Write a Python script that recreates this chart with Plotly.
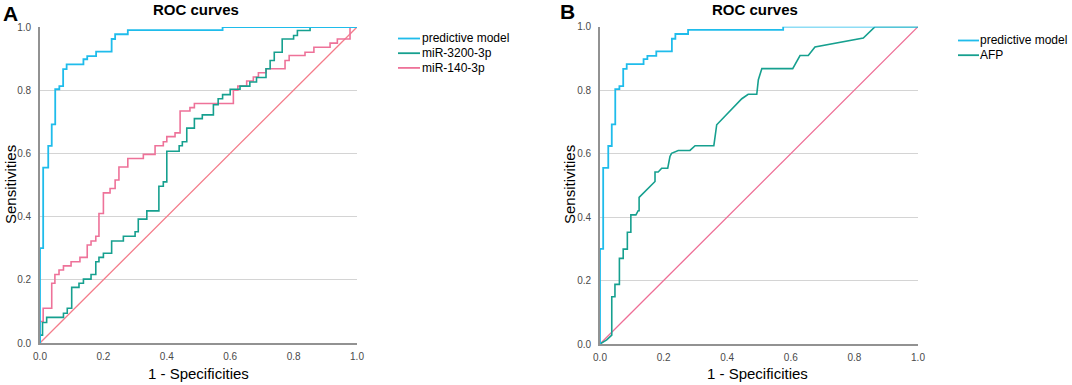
import plotly.graph_objects as go

# ---------------- data ----------------
# step ROC curves (vh: go up to y at current x, then right to x)
pm_fpr = [0, 0.010, 0.026, 0.037, 0.048, 0.061, 0.073, 0.084, 0.137, 0.149, 0.177, 0.226, 0.237, 0.277, 0.576, 1.0]
pm_tpr = [0, 0.300, 0.555, 0.624, 0.692, 0.803, 0.813, 0.867, 0.882, 0.898, 0.908, 0.922, 0.962, 0.977, 0.990, 1.0]

mir3200_fpr = [0, 0.008, 0.021, 0.074, 0.086, 0.100, 0.123, 0.137, 0.161, 0.176, 0.186, 0.200, 0.226, 0.263,
               0.300, 0.310, 0.337, 0.375, 0.389, 0.400, 0.439, 0.449, 0.463, 0.487, 0.512, 0.547, 0.562,
               0.576, 0.600, 0.631, 0.662, 0.683, 0.713, 0.726, 0.739, 0.764, 0.800, 0.812, 0.852, 1.0]
mir3200_tpr = [0, 0.025, 0.065, 0.081, 0.094, 0.110, 0.176, 0.189, 0.202, 0.217, 0.257, 0.271, 0.284, 0.323,
               0.338, 0.352, 0.392, 0.418, 0.496, 0.510, 0.607, 0.624, 0.637, 0.680, 0.710, 0.722, 0.754,
               0.773, 0.786, 0.803, 0.813, 0.826, 0.840, 0.868, 0.894, 0.920, 0.962, 0.973, 0.989, 1.0]

mir140_fpr = [0, 0.010, 0.037, 0.047, 0.060, 0.074, 0.098, 0.126, 0.149, 0.161, 0.176, 0.186, 0.200, 0.221,
              0.237, 0.249, 0.277, 0.326, 0.363, 0.389, 0.400, 0.426, 0.442, 0.473, 0.487, 0.610, 0.624,
              0.652, 0.673, 0.689, 0.713, 0.773, 0.786, 0.836, 0.864, 0.915, 0.938, 0.978, 1.0]
mir140_tpr = [0, 0.068, 0.110, 0.189, 0.217, 0.231, 0.244, 0.257, 0.271, 0.310, 0.323, 0.338, 0.410, 0.475,
              0.489, 0.516, 0.557, 0.584, 0.597, 0.624, 0.637, 0.653, 0.665, 0.734, 0.745, 0.758, 0.800,
              0.813, 0.829, 0.842, 0.855, 0.868, 0.894, 0.910, 0.920, 0.936, 0.949, 0.962, 1.0]

# AFP curve (linear segments, with ties)
afp_fpr = [0, 0.021, 0.037, 0.037, 0.047, 0.047, 0.061, 0.061, 0.073, 0.073, 0.086, 0.086, 0.097, 0.097,
           0.113, 0.120, 0.123, 0.123, 0.173, 0.173, 0.183, 0.194, 0.213, 0.220, 0.225, 0.246, 0.283, 0.299,
           0.358, 0.367, 0.446, 0.466, 0.493, 0.498, 0.509, 0.606, 0.629, 0.655, 0.676, 0.828, 0.865, 1.0]
afp_tpr = [0, 0.013, 0.028, 0.149, 0.149, 0.188, 0.188, 0.270, 0.270, 0.299, 0.299, 0.352, 0.352, 0.407,
           0.407, 0.420, 0.420, 0.462, 0.512, 0.542, 0.542, 0.554, 0.554, 0.591, 0.601, 0.610, 0.610, 0.625,
           0.625, 0.691, 0.773, 0.787, 0.787, 0.833, 0.868, 0.868, 0.909, 0.909, 0.936, 0.964, 1.0, 1.0]

ref_line = [0, 1]
ticks = [0.0, 0.2, 0.4, 0.6, 0.8, 1.0]
tick_text = ["0.0", "0.2", "0.4", "0.6", "0.8", "1.0"]

names_a = ["predictive model", "miR-3200-3p", "miR-140-3p"]
names_b = ["predictive model", "AFP"]

# ---------------- styles ----------------
C_CYAN = "#1FBCEB"
C_TEAL = "#16A08F"
C_PINK = "#EE7299"
C_DIAG_A = "#F47C8A"
C_DIAG_B = "#EE6E96"
FONT = "Arial, 'Liberation Sans', sans-serif"
W, H = 1072, 385


def px_x(p):
    return p / W


def px_y(p):
    return 1 - p / H


fig = go.Figure()

# panel A
fig.add_trace(go.Scatter(x=ref_line, y=ref_line, mode="lines", line=dict(color=C_DIAG_A, width=1.3),
                         xaxis="x", yaxis="y", showlegend=False, hoverinfo="skip"))
fig.add_trace(go.Scatter(x=mir140_fpr, y=mir140_tpr, mode="lines", line=dict(color=C_PINK, width=1.6, shape="vh"),
                         xaxis="x", yaxis="y", name=names_a[2], showlegend=False))
fig.add_trace(go.Scatter(x=mir3200_fpr, y=mir3200_tpr, mode="lines", line=dict(color=C_TEAL, width=1.6, shape="vh"),
                         xaxis="x", yaxis="y", name=names_a[1], showlegend=False))
fig.add_trace(go.Scatter(x=pm_fpr, y=pm_tpr, mode="lines", line=dict(color=C_CYAN, width=1.8, shape="vh"),
                         xaxis="x", yaxis="y", name=names_a[0], showlegend=False))

# panel B
fig.add_trace(go.Scatter(x=ref_line, y=ref_line, mode="lines", line=dict(color=C_DIAG_B, width=1.3),
                         xaxis="x2", yaxis="y2", showlegend=False, hoverinfo="skip"))
fig.add_trace(go.Scatter(x=afp_fpr, y=afp_tpr, mode="lines", line=dict(color=C_TEAL, width=1.6),
                         xaxis="x2", yaxis="y2", name=names_b[1], showlegend=False))
fig.add_trace(go.Scatter(x=pm_fpr, y=pm_tpr, mode="lines", line=dict(color=C_CYAN, width=1.8, shape="vh"),
                         xaxis="x2", yaxis="y2", name=names_b[0], showlegend=False))

axis_common = dict(range=[0, 1], tickvals=ticks, ticktext=tick_text, showline=True, linecolor="#929292",
                   linewidth=1.6, ticks="", tickfont=dict(family=FONT, size=10, color="#4a4a4a"),
                   zeroline=False, layer="below traces", fixedrange=True, automargin=False)

fig.update_layout(
    width=W, height=H, margin=dict(l=0, r=0, t=0, b=0, autoexpand=False),
    paper_bgcolor="white", plot_bgcolor="white", showlegend=False,
    xaxis=dict(domain=[px_x(40), px_x(357)], anchor="y", showgrid=False, ticklabelstandoff=3, **axis_common),
    yaxis=dict(domain=[1 - 343 / H, 1 - 27 / H], anchor="x", showgrid=True, gridcolor="#d4d4d4", gridwidth=1,
               ticklabelstandoff=5, **axis_common),
    xaxis2=dict(domain=[px_x(600), px_x(918)], anchor="y2", showgrid=False, ticklabelstandoff=3, **axis_common),
    yaxis2=dict(domain=[1 - 344 / H, 1 - 26.7 / H], anchor="x2", showgrid=True, gridcolor="#d4d4d4", gridwidth=1,
                ticklabelstandoff=5, **axis_common),
)

ann = []


def text(x, y, s, size, bold=False, angle=0, xanchor="center"):
    ann.append(dict(x=px_x(x), y=px_y(y), xref="paper", yref="paper", text=f"<b>{s}</b>" if bold else s,
                    showarrow=False, font=dict(family=FONT, size=size, color="black"), textangle=angle,
                    xanchor=xanchor, yanchor="middle"))


text(10, 13, "A", 21, bold=True)
text(567, 11, "B", 21, bold=True)
text(196, 9, "ROC curves", 15, bold=True)
text(755, 9, "ROC curves", 15, bold=True)
text(10, 185, "Sensitivities", 15, angle=-90)
text(569, 185, "Sensitivities", 15, angle=-90)
text(198, 373, "1 - Specificities", 15)
text(757, 373, "1 - Specificities", 15)

# legends
shapes = []
leg_a = [(names_a[0], C_CYAN), (names_a[1], C_TEAL), (names_a[2], C_PINK)]
for i, (nm, col) in enumerate(leg_a):
    yy = 38.5 + i * 14.7
    shapes.append(dict(type="line", xref="paper", yref="paper", x0=px_x(398), x1=px_x(420), y0=px_y(yy), y1=px_y(yy),
                       line=dict(color=col, width=1.8)))
    ann.append(dict(x=px_x(420), y=px_y(yy), xref="paper", yref="paper", text=nm, showarrow=False,
                    font=dict(family=FONT, size=12, color="black"), xanchor="left", yanchor="middle"))
leg_b = [(names_b[0], C_CYAN), (names_b[1], C_TEAL)]
for i, (nm, col) in enumerate(leg_b):
    yy = 40.5 + i * 14.7
    shapes.append(dict(type="line", xref="paper", yref="paper", x0=px_x(958), x1=px_x(979), y0=px_y(yy), y1=px_y(yy),
                       line=dict(color=col, width=1.8)))
    ann.append(dict(x=px_x(978), y=px_y(yy), xref="paper", yref="paper", text=nm, showarrow=False,
                    font=dict(family=FONT, size=12, color="black"), xanchor="left", yanchor="middle"))

fig.update_layout(annotations=ann, shapes=shapes)
fig.write_html("out.html", config={"displayModeBar": False},
               post_script="document.body.style.margin='0';document.body.style.padding='0';"
                           "document.body.style.overflow='hidden';")
